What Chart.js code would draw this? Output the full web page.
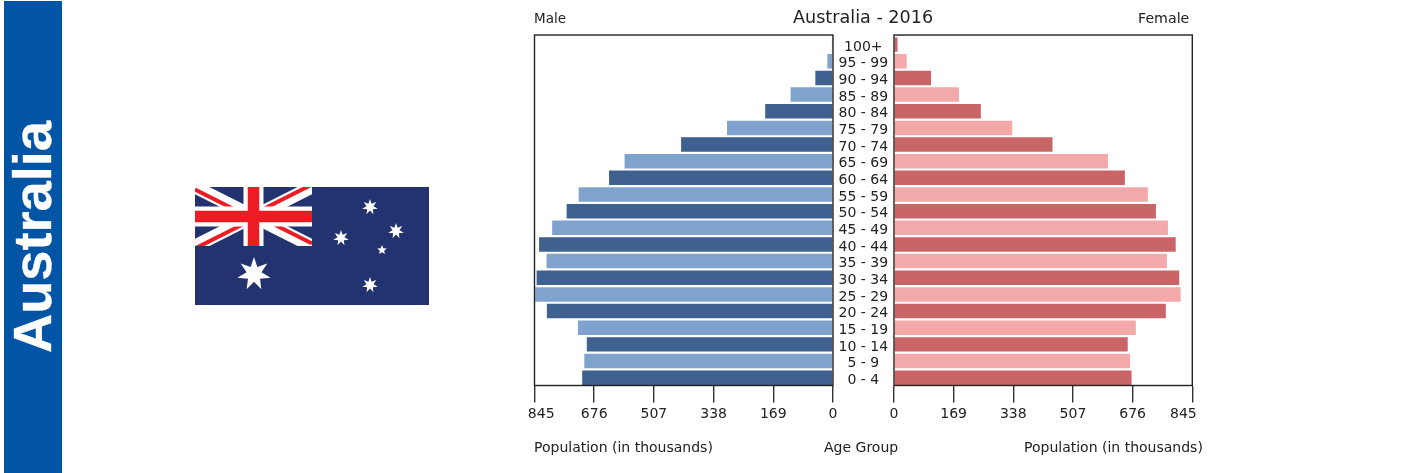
<!DOCTYPE html>
<html>
<head>
<meta charset="utf-8">
<script src="https://cdn.jsdelivr.net/npm/chart.js@4/dist/chart.umd.min.js"></script>
<style>
html,body{margin:0;padding:0;background:#fff;width:1405px;height:473px;overflow:hidden;position:relative}
canvas{position:absolute;top:0;filter:blur(0.35px)}
.t{position:absolute;font-family:"DejaVu Sans";color:#222;white-space:nowrap;line-height:1;filter:blur(0.3px)}
#side{position:absolute;left:4px;top:1px;width:58px;height:472px;background:#0254a4}
#sideText{position:absolute;left:32px;top:237px;transform:translate(-50%,-50%) rotate(-90deg);font:bold 54.2px "Liberation Sans";color:#fff;white-space:nowrap;line-height:1;-webkit-text-stroke:0.3px #fff}
#flag{position:absolute;left:195px;top:187px}
</style>
</head>
<body>
<div id="side"></div><div id="sideText">Australia</div>
<svg id="flag" width="234" height="118" viewBox="0 0 234 118"></svg>
<div class="t" style="left:793px;top:9px;font-size:17.6px" id="title">Australia - 2016</div>
<div class="t" style="left:534px;top:12px;font-size:13.5px">Male</div>
<div class="t" style="left:1138px;top:11px;font-size:14.2px">Female</div>
<div class="t" style="left:534px;top:440px;font-size:14px">Population (in thousands)</div>
<div class="t" style="left:824px;top:440px;font-size:14px">Age Group</div>
<div class="t" style="left:1024px;top:440px;font-size:14px">Population (in thousands)</div>
<canvas id="male" width="420" height="473" style="left:480px"></canvas>
<canvas id="female" width="360" height="473" style="left:870px"></canvas>
<script>
const ageGroups = ['100+','95 - 99','90 - 94','85 - 89','80 - 84','75 - 79','70 - 74','65 - 69','60 - 64','55 - 59','50 - 54','45 - 49','40 - 44','35 - 39','30 - 34','25 - 29','20 - 24','15 - 19','10 - 14','5 - 9','0 - 4'];
const maleValues = [3,16,50,120,192,300,430,590,634,720,754,795,832,811,839,843,810,722,697,704,710];
const femaleValues = [10,36,105,184,246,335,449,606,654,719,742,776,798,773,808,812,770,685,662,669,673];
const axisMax = 845;
const axisStep = 169;
const maleColors = ['#3e618f','#80a3cd'];
const femaleColors = ['#c96567','#f3a9a9'];
const ink = '#222';
const tickFont = {family:'"DejaVu Sans"', size:14};

const frame = {
  id:'frame',
  afterDatasetsDraw(c){
    const a=c.chartArea, x=c.ctx;
    x.save(); x.strokeStyle=ink; x.lineWidth=1.4;
    x.strokeRect(a.left,a.top-1.3,a.right-a.left,a.bottom-a.top+0.8);
    x.restore();
  }
};
function build(id,values,colors,isMale,padding){
  return new Chart(document.getElementById(id),{
    type:'bar',
    data:{labels:ageGroups,datasets:[{data:values,
      backgroundColor:ctx=>colors[ctx.index%2],
      borderWidth:0,categoryPercentage:1,barPercentage:0.87}]},
    options:{
      indexAxis:'y',responsive:false,animation:false,
      layout:{padding},
      plugins:{legend:{display:false},tooltip:{enabled:false}},
      scales:{
        x:{type:'linear',reverse:isMale,min:0,max:axisMax,
          border:{display:false},
          grid:{drawOnChartArea:false,drawTicks:true,tickLength:16.5,color:'#333',lineWidth:1.4},
          afterFit(s){s.height=59},
          ticks:{stepSize:axisStep,autoSkip:false,maxRotation:0,minRotation:0,padding:3,color:ink,font:tickFont,
            callback(v){
              if(v!==axisMax) return String(v);
              return isMale ? '   '+v : v+'    ';
            }}
        },
        y:{type:'category',position:'right',display:isMale,
          border:{display:false},
          grid:{display:false,drawTicks:false},
          afterFit(s){if(isMale) s.width=61},
          ticks:{autoSkip:false,crossAlign:'center',padding:5.5,labelOffset:2.5,color:ink,font:tickFont}
        }
      }
    },
    plugins:[frame]
  });
}
build('male',maleValues,maleColors,true,{left:54.5,top:36.3,right:6,bottom:28});
build('female',femaleValues,femaleColors,false,{left:24,top:36.3,right:37.7,bottom:28});

/* flag artwork */
function star(cx,cy,r,n,k){
  let p=[];
  for(let i=0;i<2*n;i++){
    const a=-Math.PI/2+i*Math.PI/n, q=i%2?r*k:r;
    p.push((cx+q*Math.cos(a)).toFixed(2)+','+(cy+q*Math.sin(a)).toFixed(2));
  }
  return '<polygon fill="#fff" points="'+p.join(' ')+'"/>';
}
const W=117,H=59,CX=W/2,CY=H/2,D=2.5;
let s='<rect width="234" height="118" fill="#23336f"/>';
s+='<clipPath id="cj"><rect width="'+W+'" height="'+H+'"/></clipPath><g clip-path="url(#cj)">';
s+='<path d="M0 0L'+W+' '+H+'M'+W+' 0L0 '+H+'" stroke="#fff" stroke-width="13"/>';
const arm=(x,y,dy)=>'M'+x+' '+(y+dy)+'L'+CX+' '+(CY+dy);
s+='<path d="'+arm(0,0,D)+arm(W,H,-D)+arm(W,0,-D)+arm(0,H,D)+'" stroke="#ed1c24" stroke-width="4"/>';
s+='<path d="M'+CX+' 0V'+H+'M0 '+CY+'H'+W+'" stroke="#fff" stroke-width="20"/>';
s+='<path d="M'+CX+' 0V'+H+'M0 '+CY+'H'+W+'" stroke="#ed1c24" stroke-width="11.5"/></g>';
s+=star(59,87,17,7,0.45)+star(175,20,8,7,0.45)+star(201,44,8,7,0.45)+star(146,51,8,7,0.45)+star(187,63,5,5,0.45)+star(175,98,8,7,0.45);
document.getElementById('flag').innerHTML=s;
</script>
</body>
</html>
